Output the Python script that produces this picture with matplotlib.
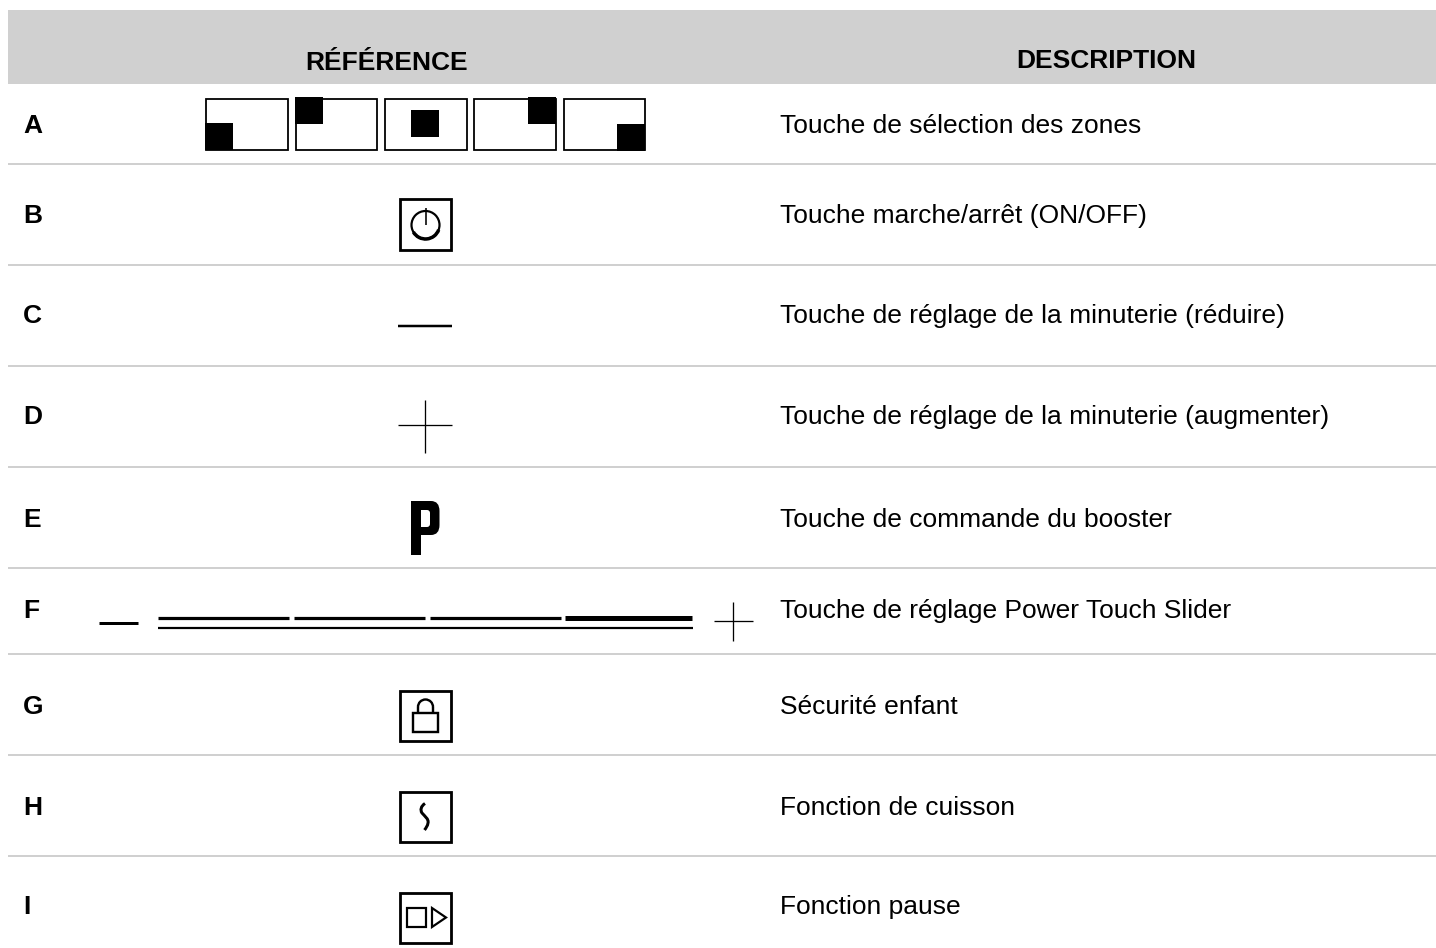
import matplotlib
matplotlib.use("Agg")
import matplotlib.pyplot as plt
from matplotlib.patches import Rectangle, Circle, Polygon, PathPatch, Arc
from matplotlib.path import Path

plt.rcParams['font.family'] = ['Liberation Sans', 'DejaVu Sans']

# table content
headers = ["RÉFÉRENCE", "DESCRIPTION"]
letters = ["A", "B", "C", "D", "E", "F", "G", "H", "I"]
descriptions = [
    "Touche de sélection des zones",
    "Touche marche/arrêt (ON/OFF)",
    "Touche de réglage de la minuterie (réduire)",
    "Touche de réglage de la minuterie (augmenter)",
    "Touche de commande du booster",
    "Touche de réglage Power Touch Slider",
    "Sécurité enfant",
    "Fonction de cuisson",
    "Fonction pause",
]

# layout in pixels
baselines = [133, 223, 323, 424, 527, 618, 714, 815, 914]
rules = [164, 265, 366, 467, 568, 654, 755, 856]
GREY = '#d0d0d0'
PX = 0.72  # one pixel in points at dpi 100

fig = plt.figure(figsize=(14.36, 9.48), dpi=100)
ax = fig.add_axes([0, 0, 1, 1])
ax.set_xlim(0, 1436)
ax.set_ylim(948, 0)
ax.axis('off')


def line(xs, ys, w=2):
    ax.plot(xs, ys, color='black', lw=w * PX, solid_capstyle='butt', solid_joinstyle='miter')


def box(x0, y0, x1, y1, w=2, fill='none', edge='black'):
    ax.add_patch(Rectangle((x0, y0), x1 - x0, y1 - y0, fc=fill, ec=edge, lw=w * PX))


# header and rules
ax.add_patch(Rectangle((8, 10), 1428, 74, fc=GREY, ec='none'))
ax.text(387, 70, headers[0], fontsize=19, fontweight='bold', ha='center', va='baseline', color='black')
ax.text(1106, 68, headers[1], fontsize=19, fontweight='bold', ha='center', va='baseline', color='black')
for y in rules:
    line([8, 1436], [y, y], 2)
    ax.lines[-1].set_color(GREY)

for letter, text, y in zip(letters, descriptions, baselines):
    ax.text(23, y, letter, fontsize=19, fontweight='bold', ha='left', va='baseline', color='black')
    ax.text(780, y, text, fontsize=19, ha='left', va='baseline', color='black')

# A: zone keys
for x0, x1 in [(206, 288), (296, 377), (385, 467), (474, 556), (564, 645)]:
    box(x0, 98.5, x1, 149.5, 1.8)
for sx, sy in [(205, 123), (295, 97), (411, 110), (528, 97), (617, 124)]:
    ax.add_patch(Rectangle((sx, sy), 28, 27, fc='black', ec='none'))

# B: on/off
box(400, 199, 451, 250, 2.8)
ax.add_patch(Circle((425.5, 225), 14, fc='none', ec='black', lw=2.2 * PX))
ax.add_patch(Arc((425.5, 225), 28, 28, theta1=20, theta2=150, ec='black', lw=3.5 * PX))
line([425.5, 425.5], [208, 225], 1.6)

# C and D: minus, plus
line([398, 452], [326, 326], 2.5)
line([398, 452], [425, 425], 1.3)
line([425, 425], [400, 453], 1.3)

# E: booster P
p_verts = [(411, 501), (431, 501), (439.5, 501), (439.5, 511), (439.5, 525), (439.5, 535), (431, 535),
           (421, 535), (421, 555), (411, 555), (411, 501),
           (421, 510), (421, 527), (427, 527), (430, 527), (430, 524), (430, 513), (430, 510), (427, 510), (421, 510)]
p_codes = [Path.MOVETO, Path.LINETO, Path.CURVE3, Path.CURVE3, Path.LINETO, Path.CURVE3, Path.CURVE3,
           Path.LINETO, Path.LINETO, Path.LINETO, Path.CLOSEPOLY,
           Path.MOVETO, Path.LINETO, Path.LINETO, Path.CURVE3, Path.CURVE3, Path.LINETO, Path.CURVE3, Path.CURVE3, Path.CLOSEPOLY]
ax.add_patch(PathPatch(Path(p_verts, p_codes), fc='black', ec='none'))

# F: slider
line([99, 138], [622.5, 622.5], 3)
for x0, x1 in [(158, 289), (294, 425), (430, 561)]:
    line([x0, x1], [617.5, 617.5], 3.2)
line([565, 692], [617.5, 617.5], 5)
line([158, 693], [628, 628], 2.2)
line([714, 753], [621, 621], 1.3)
line([733, 733], [602, 641], 1.3)

# G: lock
box(400, 691, 451, 741, 2.8)
box(413, 713, 438, 732, 2.4)
ax.add_patch(Arc((425.5, 707), 15, 15, theta1=180, theta2=360, ec='black', lw=2.4 * PX))
line([418, 418], [707, 713], 2.4)
line([433, 433], [707, 713], 2.4)

# H: cooking
box(400, 792, 451, 842, 2.8)
s_verts = [(425, 803.5), (421, 806), (420, 810), (422, 813),
           (424.5, 816), (429, 819), (428, 823), (427.5, 826), (426, 828), (424.5, 830)]
s_codes = [Path.MOVETO] + [Path.CURVE4] * 9
ax.add_patch(PathPatch(Path(s_verts, s_codes), fc='none', ec='black', lw=3 * PX))

# I: pause
box(400, 893, 451, 943, 2.8)
box(407, 908, 426, 927, 2.2)
ax.add_patch(Polygon([(432, 908), (446, 917.5), (432, 927)], closed=True, fc='none', ec='black', lw=2.2 * PX))

fig.savefig('out.png', dpi=100)
